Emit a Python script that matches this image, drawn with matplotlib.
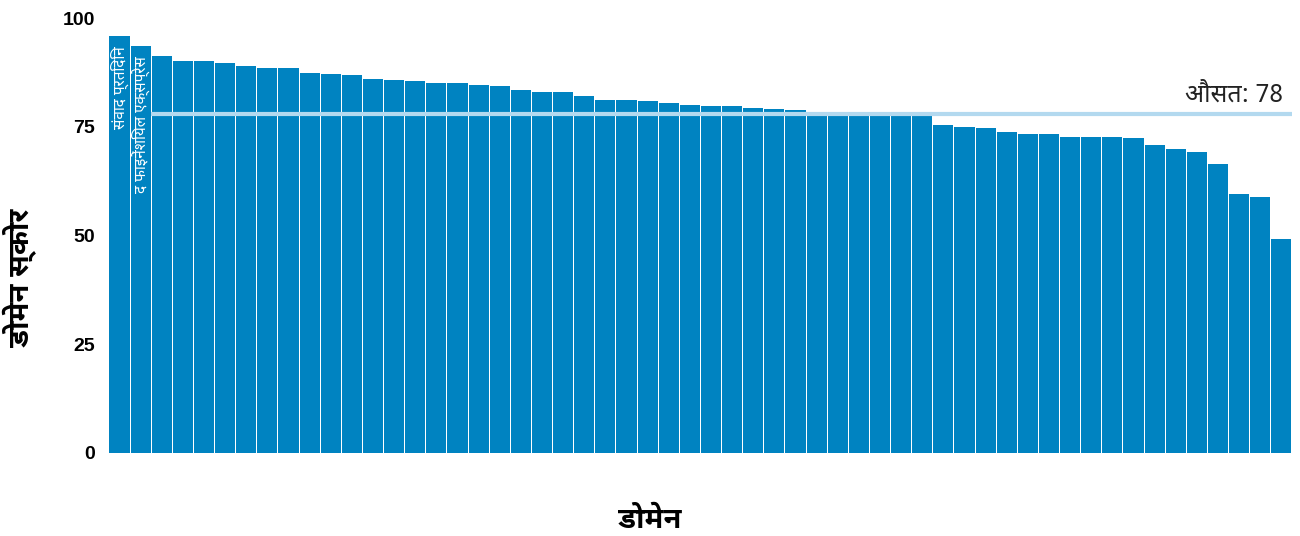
import glob
import numpy as np
import matplotlib
matplotlib.use('Agg')
import matplotlib.pyplot as plt
from matplotlib import font_manager

# देवनागरी फ़ॉन्ट जोड़ें
for f in glob.glob('/usr/share/fonts/**/NotoSansDevanagari*.ttf', recursive=True):
    try:
        font_manager.fontManager.addfont(f)
    except Exception:
        pass
names = {f.name for f in font_manager.fontManager.ttflist}
deva = 'Noto Sans Devanagari' if 'Noto Sans Devanagari' in names else 'Noto Sans Devanagari UI'
deva_bold = 'Noto Sans Devanagari UI' if 'Noto Sans Devanagari UI' in names else deva
fam = [deva, 'DejaVu Sans']
fam_bold = [deva_bold, 'DejaVu Sans']

# डोमेन स्कोर (बाएं से दाएं, घटते क्रम में)
scores = [95.9, 93.6, 91.3, 90.1, 90.1, 89.7, 89.0, 88.5, 88.5, 87.4,
          87.1, 86.9, 86.0, 85.7, 85.5, 85.1, 85.1, 84.6, 84.4, 83.4,
          83.0, 83.0, 82.1, 81.1, 81.1, 80.9, 80.5, 80.0, 79.8, 79.8,
          79.3, 79.1, 78.9, 78.4, 78.0, 77.9, 77.8, 77.8, 77.5, 75.4,
          74.9, 74.7, 73.8, 73.3, 73.3, 72.6, 72.6, 72.6, 72.4, 70.8,
          69.9, 69.2, 66.4, 59.5, 58.9, 49.2]
bar_labels = ['संवाद प्रतिदिन', 'द फाइनेंशियल एक्सप्रेस']
average = 78
yticks = [0, 25, 50, 75, 100]

x = np.arange(len(scores))

fig = plt.figure(figsize=(13, 5.36))
ax = fig.add_axes([0.0838, 0.1549, 0.91, 0.8115])

ax.bar(x, scores, width=0.95, color='#0083c1', zorder=2)

# औसत रेखा (तीसरे बार से शुरू)
ax.hlines(average, 1.5, len(scores) - 0.5, color='#b3d9ef', linewidth=3, zorder=3)
ax.text(len(scores) - 0.9, average + 1.3, 'औसत: ' + str(average), family=fam,
        fontsize=18, color='#222222', ha='right', va='bottom')

# पहले दो बार के अंदर नाम
for i, lab in enumerate(bar_labels):
    ax.text(x[i], scores[i] - 2.4, lab, family=fam, rotation=90, color='white',
            fontsize=11, ha='center', va='top')

ax.set_xlim(-0.5, len(scores) - 0.5)
ax.set_ylim(0, 100)
ax.set_xticks([])
ax.set_yticks(yticks)
ax.set_yticklabels([str(t) for t in yticks], family='Liberation Sans',
                   fontweight='bold', fontsize=14)
ax.tick_params(axis='y', length=0, pad=10)
for s in ax.spines.values():
    s.set_visible(False)

ax.set_ylabel('डोमेन स्कोर', family=fam_bold, fontweight='bold', fontsize=21)
ax.yaxis.set_label_coords(-0.061, 0.402)
ax.set_xlabel('डोमेन', family=fam_bold, fontweight='bold', fontsize=21)
ax.xaxis.set_label_coords(0.457, -0.122)

plt.savefig('out.png', dpi=100)
